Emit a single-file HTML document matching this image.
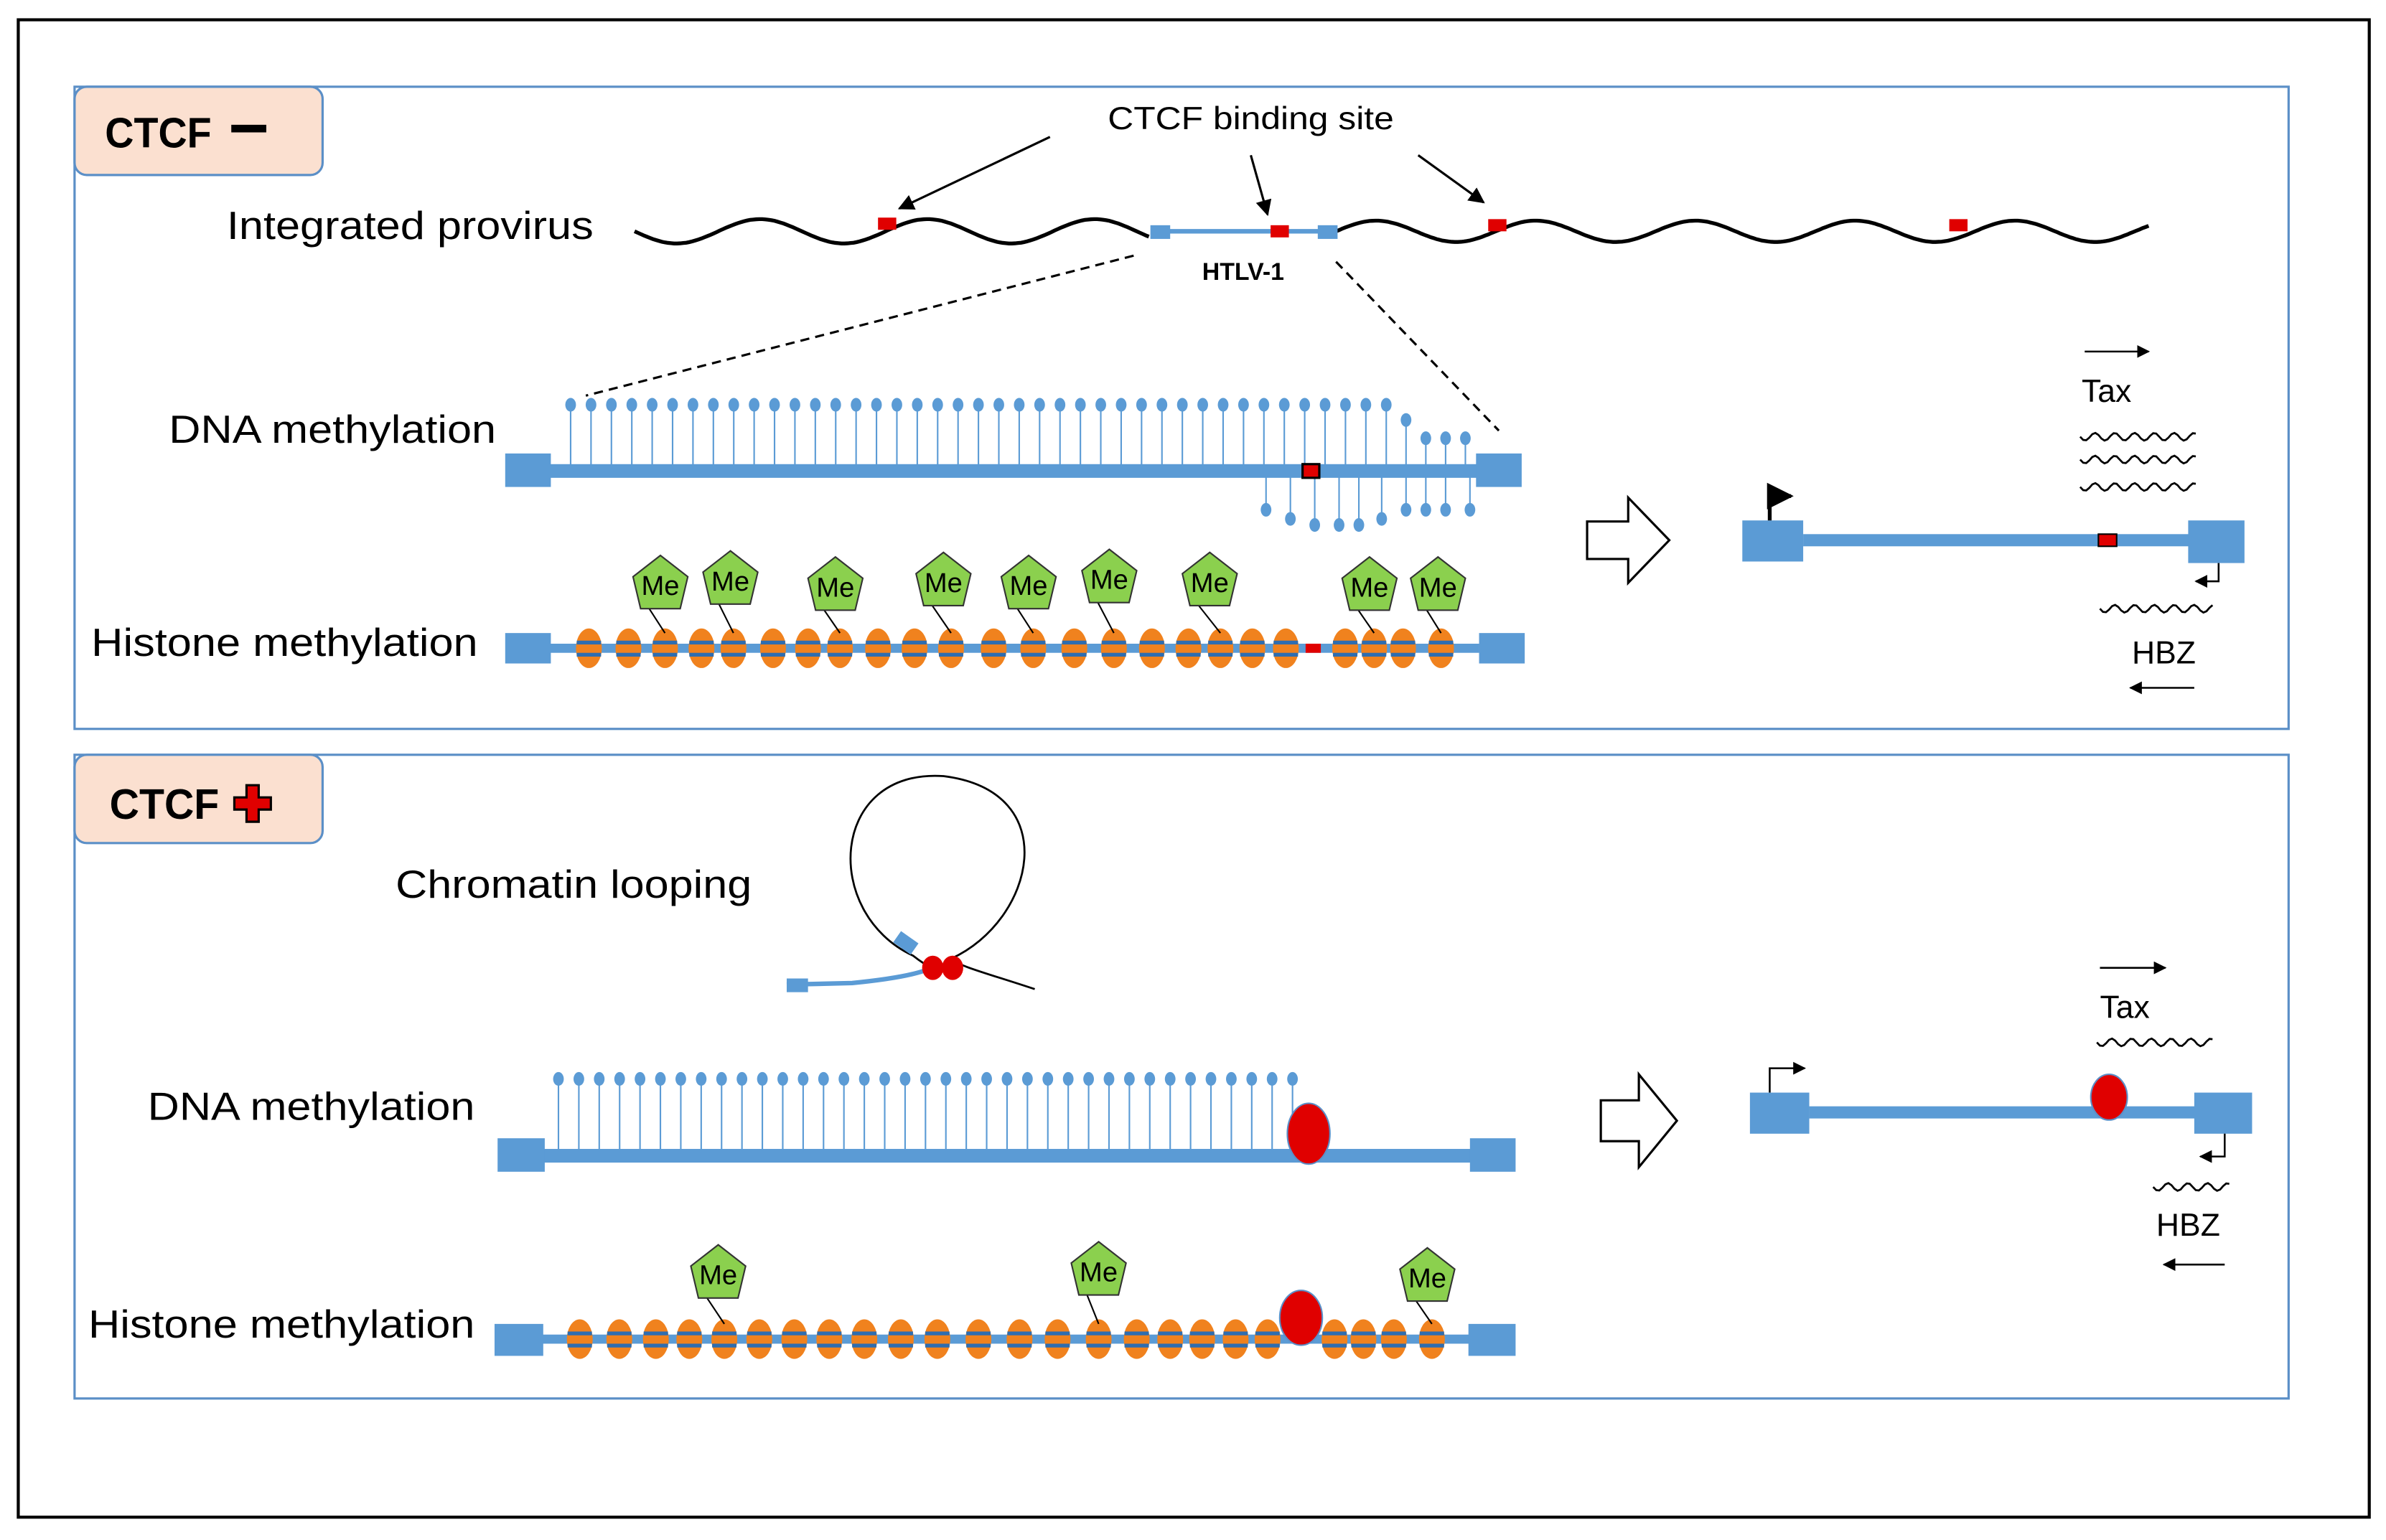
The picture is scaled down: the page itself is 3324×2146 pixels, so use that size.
<!DOCTYPE html>
<html><head><meta charset="utf-8"><style>
html,body{margin:0;padding:0;background:#fff;}
svg{display:block;}
text{font-family:"Liberation Sans",sans-serif;}
</style></head><body>
<svg id="s" width="3324" height="2146" viewBox="0 0 1568 1012" preserveAspectRatio="none" xmlns="http://www.w3.org/2000/svg">
<defs>
<marker id="ah" viewBox="0 0 10 10" refX="9" refY="5" markerWidth="7" markerHeight="7" orient="auto"><path d="M0,0 L10,5 L0,10 z" fill="#000"/></marker>
</defs>
<rect x="12" y="13" width="1545" height="984" fill="#fff" stroke="#000" stroke-width="2"/>
<rect x="49" y="57" width="1455" height="422" fill="none" stroke="#5b8fc7" stroke-width="1.5"/>
<rect x="49" y="496" width="1455" height="423" fill="none" stroke="#5b8fc7" stroke-width="1.5"/>
<rect x="49" y="57" width="163" height="58" rx="8" fill="#fbe0d0" stroke="#5b8fc7" stroke-width="1.5"/>
<text x="69" y="97" font-size="28" font-weight="bold" textLength="70" lengthAdjust="spacingAndGlyphs">CTCF</text>
<rect x="152" y="82" width="23" height="5" fill="#000"/>
<rect x="49" y="496" width="163" height="58" rx="8" fill="#fbe0d0" stroke="#5b8fc7" stroke-width="1.5"/>
<text x="72" y="538" font-size="28" font-weight="bold" textLength="72" lengthAdjust="spacingAndGlyphs">CTCF</text>
<path d="M162,516 h8 v8 h8 v8 h-8 v8 h-8 v-8 h-8 v-8 h8 z" fill="#e00000" stroke="#000" stroke-width="1.5"/>

<text x="149" y="157" font-size="26" textLength="241" lengthAdjust="spacingAndGlyphs">Integrated provirus</text>
<text x="728" y="85" font-size="21" textLength="188" lengthAdjust="spacingAndGlyphs">CTCF  binding site</text>
<text x="790" y="184" font-size="16" font-weight="bold">HTLV-1</text>
<g stroke="#000" stroke-width="1.5" fill="none" marker-end="url(#ah)">
<line x1="690" y1="90" x2="591" y2="137"/><line x1="822" y1="102" x2="833" y2="141"/><line x1="932" y1="102" x2="975" y2="133"/>
</g>
<g stroke="#000" stroke-width="1.5" stroke-dasharray="6,4"><line x1="745" y1="168" x2="385" y2="260"/><line x1="878" y1="172" x2="985" y2="283"/></g>
<text x="111" y="291" font-size="26" textLength="215" lengthAdjust="spacingAndGlyphs">DNA methylation</text>
<text x="60" y="431" font-size="26" textLength="254" lengthAdjust="spacingAndGlyphs">Histone methylation</text>
<text x="260" y="590" font-size="26" textLength="234" lengthAdjust="spacingAndGlyphs">Chromatin looping</text>
<text x="97" y="736" font-size="26" textLength="215" lengthAdjust="spacingAndGlyphs">DNA methylation</text>
<text x="58" y="879" font-size="26" textLength="254" lengthAdjust="spacingAndGlyphs">Histone methylation</text>
<text x="1368" y="264" font-size="21">Tax</text>
<text x="1401" y="436" font-size="21">HBZ</text>
<text x="1380" y="669" font-size="21">Tax</text>
<text x="1417" y="812" font-size="21">HBZ</text>
<g id="g"></g>
</svg>
<script>
var g=document.getElementById('g'),h='';
var B='#5b9bd5';
function wave(x1,x2,y,a,p){var d='M'+x1+','+y;for(var x=x1;x<=x2;x+=2){d+=' L'+x+','+(y+a*Math.sin((x-x1)/p*2*Math.PI)).toFixed(1);}return d;}
h+='<path d="'+wave(417,755,152,8,110)+'" fill="none" stroke="#000" stroke-width="2.5"/>';
h+='<path d="'+wave(878,1413,152,-7,105)+'" fill="none" stroke="#000" stroke-width="2.5"/>';
h+='<line x1="760" y1="152" x2="875" y2="152" stroke="'+B+'" stroke-width="3"/>';
h+='<rect x="756" y="148" width="13" height="9" fill="'+B+'"/><rect x="866" y="148" width="13" height="9" fill="'+B+'"/>';
[[583,147],[841,152],[984,148],[1287,148]].forEach(function(p){h+='<rect x="'+(p[0]-6)+'" y="'+(p[1]-4)+'" width="12" height="8" fill="#e00000"/>';});
function lol(x,yb,yh){h+='<line x1="'+x+'" y1="'+yb+'" x2="'+x+'" y2="'+yh+'" stroke="'+B+'" stroke-width="1"/><ellipse cx="'+x+'" cy="'+yh+'" rx="3.5" ry="4.5" fill="'+B+'"/>';}
for(var i=0;i<41;i++){lol(375+i*13.4,306,266);}
lol(924,306,276);[937,950,963].forEach(function(x){lol(x,306,288);});
[[832,335],[848,341],[864,345],[880,345],[893,345],[908,341],[924,335],[937,335],[950,335],[966,335]].forEach(function(p){lol(p[0],312,p[1]);});
h+='<rect x="360" y="305" width="612" height="9" fill="'+B+'"/>';
h+='<rect x="332" y="298" width="30" height="22" fill="'+B+'"/><rect x="970" y="298" width="30" height="22" fill="'+B+'"/>';
h+='<rect x="856" y="305" width="11" height="9" fill="#e00000" stroke="#000" stroke-width="1.5"/>';
function nuc(x,y){h+='<ellipse cx="'+x+'" cy="'+y+'" rx="8.5" ry="13" fill="#f0821e"/><rect x="'+(x-8)+'" y="'+(y-5)+'" width="16" height="2.5" fill="#2e6db0"/><rect x="'+(x-8)+'" y="'+(y+3)+'" width="16" height="2.5" fill="#2e6db0"/>';}
function me(x,y,nx,ny){h+='<line x1="'+(x-8)+'" y1="'+(y+16)+'" x2="'+nx+'" y2="'+(ny-10)+'" stroke="#000" stroke-width="1"/>';
h+='<path d="M'+x+','+(y-18)+' L'+(x+18)+','+(y-4)+' L'+(x+13)+','+(y+17)+' L'+(x-13)+','+(y+17)+' L'+(x-18)+','+(y-4)+' z" fill="#8bd04e" stroke="#333" stroke-width="1"/>';
h+='<text x="'+x+'" y="'+(y+8)+'" font-size="18" text-anchor="middle">Me</text>';}
h+='<rect x="360" y="423" width="612" height="6" fill="'+B+'"/>';
h+='<rect x="332" y="416" width="30" height="20" fill="'+B+'"/><rect x="972" y="416" width="30" height="20" fill="'+B+'"/>';
var n1=[387,413,437,461,482,508,531,552,577,601,625,653,679,706,732,757,781,802,823,845,884,903,922,947];
n1.forEach(function(x){nuc(x,426);});
h+='<rect x="858" y="423" width="10" height="6" fill="#e00000"/>';
[[434,383,437],[480,380,482],[549,384,552],[620,381,625],[676,383,679],[729,379,732],[795,381,802],[900,384,903],[945,384,947]].forEach(function(p){me(p[0],p[1],p[2],426);});
function barrow(x,y,w,hh){var m=y+hh/2;h+='<path d="M'+x+','+(y+hh*0.28)+' H'+(x+w*0.5)+' V'+y+' L'+(x+w)+','+m+' L'+(x+w*0.5)+','+(y+hh)+' V'+(y+hh*0.72)+' H'+x+' z" fill="#fff" stroke="#000" stroke-width="1.5"/>';}
barrow(1043,327,54,56);barrow(1052,706,50,61);
h+='<rect x="1185" y="351" width="255" height="8" fill="'+B+'"/><rect x="1145" y="342" width="40" height="27" fill="'+B+'"/><rect x="1438" y="342" width="37" height="28" fill="'+B+'"/>';
h+='<rect x="1379" y="351" width="12" height="8" fill="#e00000" stroke="#000" stroke-width="1"/>';
h+='<path d="M1163,342 V326 H1177" fill="none" stroke="#000" stroke-width="2.5" marker-end="url(#ah)"/>';
h+='<path d="M1458,370 V382 H1443" fill="none" stroke="#000" stroke-width="1.2" marker-end="url(#ah)"/>';
h+='<line x1="1370" y1="231" x2="1412" y2="231" stroke="#000" stroke-width="1.2" marker-end="url(#ah)"/>';
[287,302,320].forEach(function(y){h+='<path d="'+wave(1367,1443,y,2.5,13)+'" fill="none" stroke="#000" stroke-width="1.3"/>';});
h+='<path d="'+wave(1380,1455,400,2.5,13)+'" fill="none" stroke="#000" stroke-width="1.3"/>';
h+='<line x1="1442" y1="452" x2="1400" y2="452" stroke="#000" stroke-width="1.2" marker-end="url(#ah)"/>';
h+='<path d="M680,650 C650,640 630,635 625,630 C680,605 700,520 620,510 C545,505 540,600 600,628 C605,632 610,635 612,636" fill="none" stroke="#000" stroke-width="1.3"/>';
h+='<path d="M517,647 L560,646 Q600,642 612,636" fill="none" stroke="'+B+'" stroke-width="3"/>';
h+='<rect x="517" y="643" width="14" height="9" fill="'+B+'"/>';
h+='<rect x="588" y="615" width="14" height="9" fill="'+B+'" transform="rotate(35 595 620)"/>';
h+='<ellipse cx="613" cy="636" rx="7" ry="8" fill="#e00000"/><ellipse cx="626" cy="636" rx="7" ry="8" fill="#e00000"/>';
for(var i=0;i<37;i++){lol(367+i*13.4,755,709);}
h+='<rect x="355" y="755" width="615" height="9" fill="'+B+'"/>';
h+='<rect x="327" y="748" width="31" height="22" fill="'+B+'"/><rect x="966" y="748" width="30" height="22" fill="'+B+'"/>';
h+='<ellipse cx="860" cy="745" rx="14" ry="20" fill="#e00000" stroke="#5b8fc7" stroke-width="1"/>';
h+='<rect x="355" y="877" width="612" height="6" fill="'+B+'"/>';
h+='<rect x="325" y="870" width="32" height="21" fill="'+B+'"/><rect x="965" y="870" width="31" height="21" fill="'+B+'"/>';
[381,407,431,453,476,499,522,545,568,592,616,643,670,695,722,747,769,790,812,833,877,896,916,941].forEach(function(x){nuc(x,880);});
h+='<ellipse cx="855" cy="866" rx="14" ry="18" fill="#e00000" stroke="#5b8fc7" stroke-width="1"/>';
[[472,836,476],[722,834,722],[938,838,941]].forEach(function(p){me(p[0],p[1],p[2],880);});
h+='<rect x="1189" y="727" width="255" height="8" fill="'+B+'"/><rect x="1150" y="718" width="39" height="27" fill="'+B+'"/><rect x="1442" y="718" width="38" height="27" fill="'+B+'"/>';
h+='<ellipse cx="1386" cy="721" rx="12" ry="15" fill="#e00000" stroke="#5b8fc7" stroke-width="1"/>';
h+='<path d="M1163,718 V702 H1186" fill="none" stroke="#000" stroke-width="1.2" marker-end="url(#ah)"/>';
h+='<path d="M1462,745 V760 H1446" fill="none" stroke="#000" stroke-width="1.2" marker-end="url(#ah)"/>';
h+='<line x1="1380" y1="636" x2="1423" y2="636" stroke="#000" stroke-width="1.2" marker-end="url(#ah)"/>';
h+='<path d="'+wave(1378,1455,685,2.5,13)+'" fill="none" stroke="#000" stroke-width="1.3"/>';
h+='<path d="'+wave(1415,1465,780,2.5,13)+'" fill="none" stroke="#000" stroke-width="1.3"/>';
h+='<line x1="1462" y1="831" x2="1422" y2="831" stroke="#000" stroke-width="1.2" marker-end="url(#ah)"/>';
g.innerHTML=h;
</script>
</body></html>
